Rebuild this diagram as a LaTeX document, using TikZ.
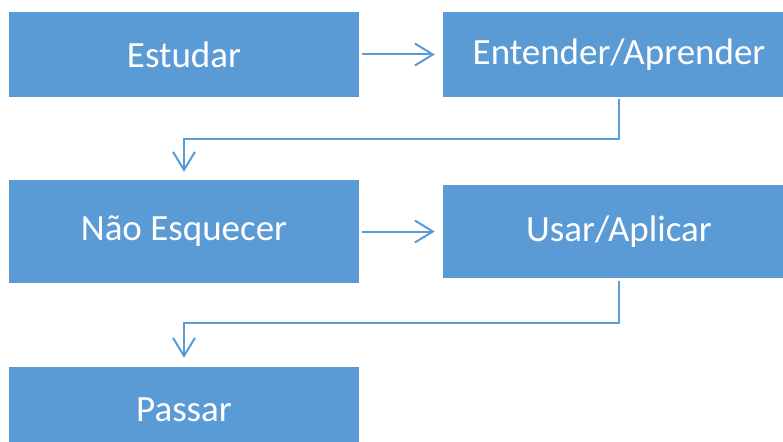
\documentclass[tikz,border=0pt]{standalone}
\usepackage{fontspec}
\setmainfont{Carlito}
\usetikzlibrary{arrows.meta, calc}

\definecolor{boxblue}{HTML}{5B9BD5}

\tikzset{
    stepbox/.style={fill=boxblue, draw=none, text=white, inner sep=0pt,
        minimum width=350pt, font=\fontsize{37}{44}\selectfont},
    flow/.style={draw=boxblue, line width=2pt,
        -{Straight Barb[length=18pt, width=22pt, line width=2pt]}}
}

\begin{document}
\begin{tikzpicture}[x=1pt, y=-1pt]
\useasboundingbox (0,0) rectangle (783,441);
\clip (0,0) rectangle (783,441);

% Boxes
\node[stepbox, minimum height=85pt] (estudar) at (184,54.5) {Estudar};
\node[stepbox, minimum width=352pt, minimum height=85pt] (entender) at (619,54.5) {Entender/Aprender};
\node[stepbox, minimum height=103pt] (nao) at (184,231.5) {Não Esquecer};
\node[stepbox, minimum width=352pt, minimum height=93pt] (usar) at (619,231.5) {Usar/Aplicar};
\node[stepbox, minimum height=85pt] (passar) at (184,409.5) {Passar};

% Connectors
\draw[flow, shorten <=3pt, shorten >=8pt] (estudar.east) -- (entender.west);
\draw[flow, shorten <=3pt, shorten >=8pt] (nao.east) -- (usar.west);
\draw[flow, shorten <=2pt, shorten >=8pt] (entender.south)
    |- ($(entender.south)!.5!(nao.north)$) -| (nao.north);
\draw[flow, shorten <=3pt, shorten >=9pt] (usar.south)
    |- ($(usar.south)!.5!(passar.north)$) -| (passar.north);
\end{tikzpicture}
\end{document}
